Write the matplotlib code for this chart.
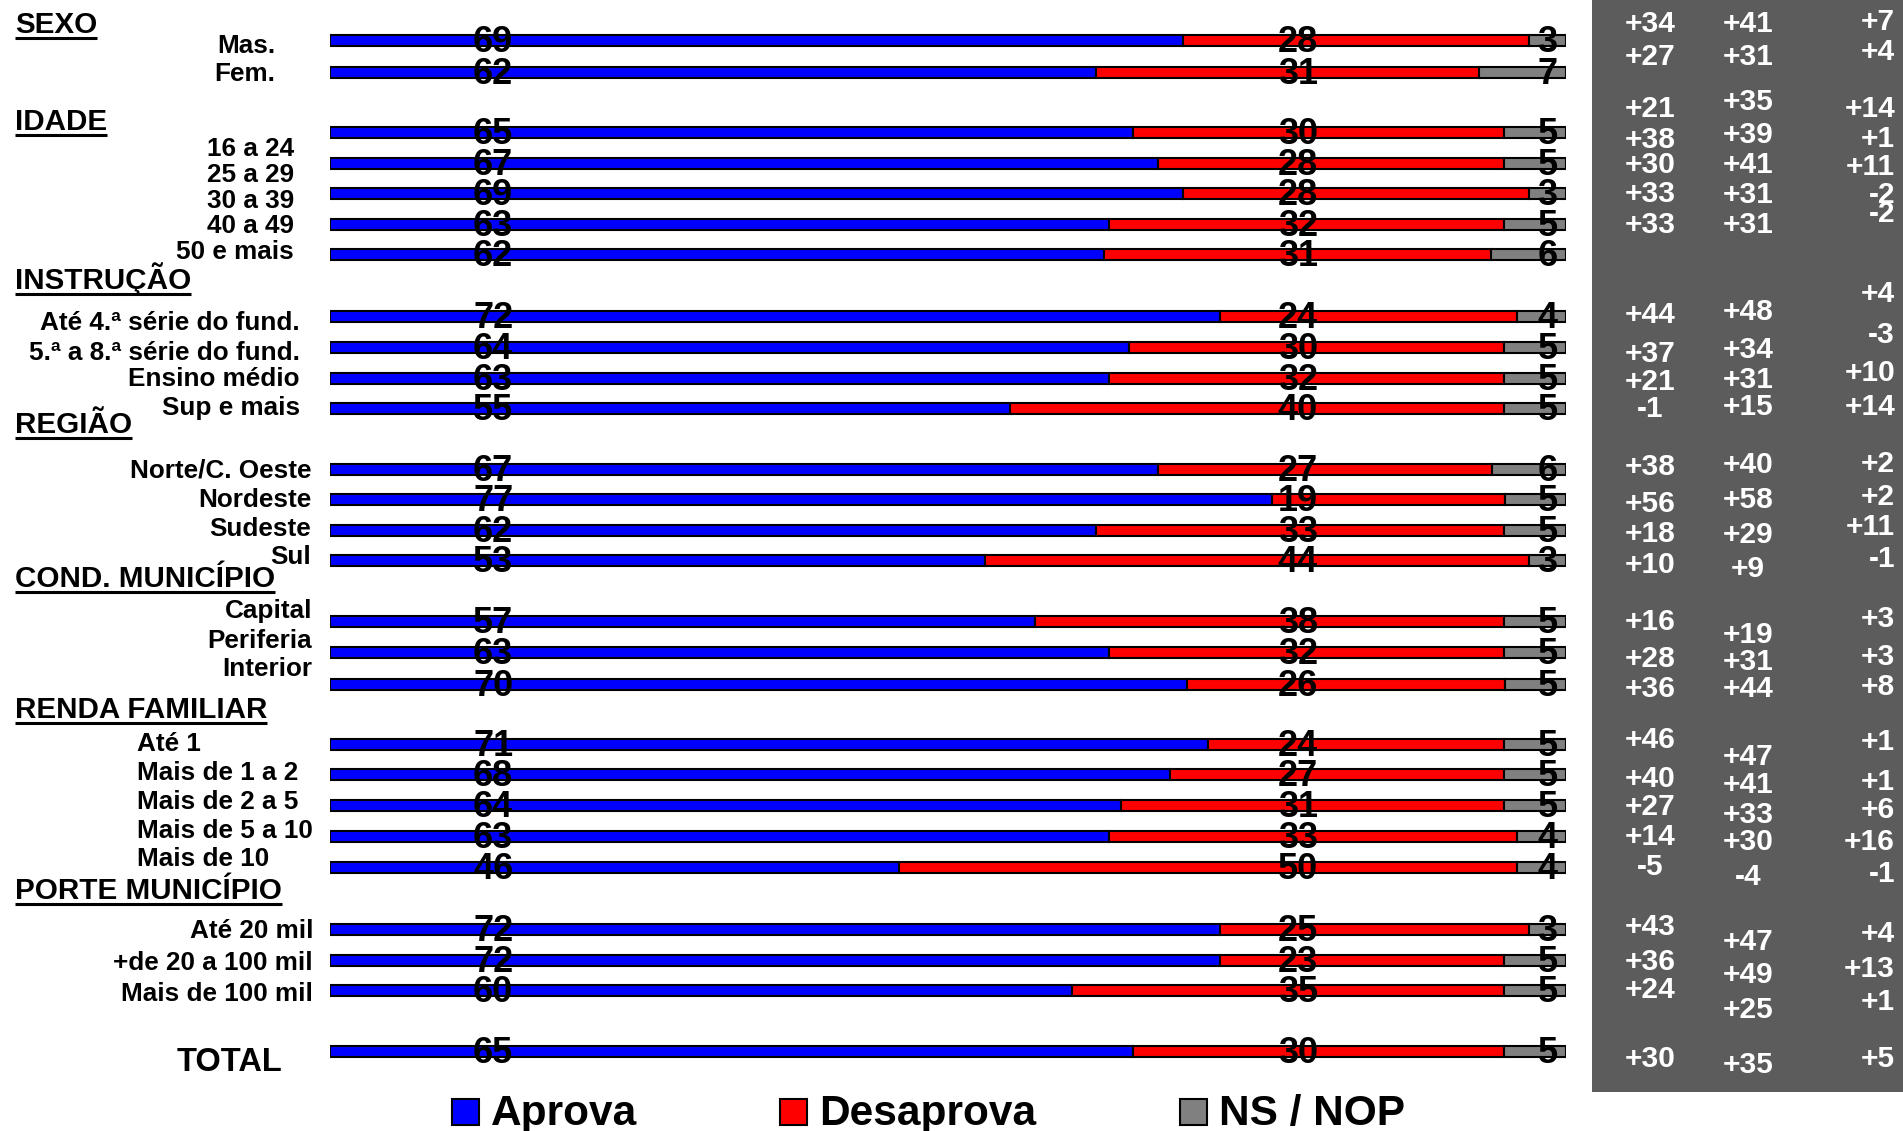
import numpy as np
import matplotlib.pyplot as plt
from matplotlib.patches import Rectangle

plt.rcParams['font.family'] = ['Liberation Sans', 'DejaVu Sans']
plt.rcParams['font.weight'] = 'bold'

# the data
rows = ['Mas.', 'Fem.',
        '16 a 24', '25 a 29', '30 a 39', '40 a 49', '50 e mais',
        'Até 4.ª série do fund.', '5.ª a 8.ª série do fund.', 'Ensino médio', 'Sup e mais',
        'Norte/C. Oeste', 'Nordeste', 'Sudeste', 'Sul',
        'Capital', 'Periferia', 'Interior',
        'Até 1', 'Mais de 1 a 2', 'Mais de 2 a 5', 'Mais de 5 a 10', 'Mais de 10',
        'Até 20 mil', '+de 20 a 100 mil', 'Mais de 100 mil',
        'TOTAL']
aprova = [69, 62, 65, 67, 69, 63, 62, 72, 64, 63, 55, 67, 77, 62, 53,
          57, 63, 70, 71, 68, 64, 63, 46, 72, 72, 60, 65]
desaprova = [28, 31, 30, 28, 28, 32, 31, 24, 30, 32, 40, 27, 19, 33, 44,
             38, 32, 26, 24, 27, 31, 33, 50, 25, 23, 35, 30]
ns_nop = [3, 7, 5, 5, 3, 5, 6, 4, 5, 5, 5, 6, 5, 5, 3,
          5, 5, 5, 5, 5, 5, 4, 4, 3, 5, 5, 5]

headers = ['SEXO', 'IDADE', 'INSTRUÇÃO', 'REGIÃO', 'COND. MUNICÍPIO',
           'RENDA FAMILIAR', 'PORTE MUNICÍPIO']

# right panel columns
col1 = ['+34', '+27', '+21', '+38', '+30', '+33', '+33', '+44', '+37', '+21', '-1',
        '+38', '+56', '+18', '+10', '+16', '+28', '+36', '+46', '+40', '+27', '+14', '-5',
        '+43', '+36', '+24', '+30']
col2 = ['+41', '+31', '+35', '+39', '+41', '+31', '+31', '+48', '+34', '+31', '+15',
        '+40', '+58', '+29', '+9', '+19', '+31', '+44', '+47', '+41', '+33', '+30', '-4',
        '+47', '+49', '+25', '+35']
col3 = ['+7', '+4', '+14', '+1', '+11', '-2', '-2', '+4', '-3', '+10', '+14',
        '+2', '+2', '+11', '-1', '+3', '+3', '+8', '+1', '+1', '+6', '+16', '-1',
        '+4', '+13', '+1', '+5']

# layout (pixels from top)
bar_y = [40, 72, 132, 163, 193, 224, 254, 316, 347, 378, 408, 469, 499, 530, 560,
         621, 652, 684, 744, 774, 805, 836, 867, 929, 960, 990, 1051]
lab_y = [53, 81, 156, 182, 208, 233, 259, 330, 360, 386, 415, 477, 507, 536, 564,
         618, 648, 676, 751, 780, 809, 838, 866, 938, 970, 1001, 1071]
lab_x = [275] * 2 + [294] * 5 + [300] * 4 + [311] * 4 + [312] * 3 + [137] * 5 + [313] * 3 + [282]
lab_ha = ['right'] * 18 + ['left'] * 5 + ['right'] * 4
head_y = [33, 130, 289, 433, 587, 718, 899]
c1_y = [32, 65, 117, 148, 173, 202, 233, 323, 362, 390, 417, 475, 512, 542, 573,
        630, 667, 697, 748, 787, 815, 845, 875, 935, 970, 998, 1067]
c2_y = [32, 65, 110, 143, 173, 203, 233, 320, 358, 388, 415, 473, 508, 543, 577,
        643, 670, 697, 765, 793, 823, 850, 885, 950, 983, 1018, 1073]
c3_y = [30, 60, 117, 147, 175, 203, 222, 302, 343, 381, 415, 472, 505, 535, 567,
        627, 665, 695, 750, 790, 818, 850, 882, 942, 977, 1010, 1067]

W, H = 1903, 1131
fig = plt.figure(figsize=(W / 100, H / 100), dpi=100)

# background / text layer in pixel coordinates
ov = fig.add_axes([0, 0, 1, 1])
ov.set_xlim(0, W)
ov.set_ylim(H, 0)
ov.axis('off')
ov.add_patch(Rectangle((1592, 0), W - 1592, 1092, color='#5c5c5c', lw=0))

# bars
bx0, bw = 330, 1236
ax = fig.add_axes([bx0 / W, 0, bw / W, 1])
ax.set_xlim(0, 100)
ax.set_ylim(H, 0)
ax.axis('off')

a = np.array(aprova, float)
d = np.array(desaprova, float)
n = np.array(ns_nop, float)
tot = a + d + n
a_p, d_p, n_p = a / tot * 100, d / tot * 100, n / tot * 100
kw = dict(height=11, edgecolor='black', linewidth=1.5)
ax.barh(bar_y, a_p, color='#0000ff', **kw)
ax.barh(bar_y, d_p, left=a_p, color='#ff0000', **kw)
ax.barh(bar_y, n_p, left=a_p + d_p, color='#808080', **kw)

for i, y in enumerate(bar_y):
    for xv, v in ((13.2, aprova[i]), (78.3, desaprova[i]), (98.5, ns_nop[i])):
        ax.text(xv, y + 12, str(v), ha='center', va='baseline', fontsize=26,
                color='black', zorder=5)

# category labels
for i, r in enumerate(rows):
    fs = 23.5 if r == 'TOTAL' else 18.8
    ov.text(lab_x[i], lab_y[i], r, ha=lab_ha[i], va='baseline', fontsize=fs)

# group headers, underlined
head_txt = []
for h, y in zip(headers, head_y):
    head_txt.append(ov.text(15, y, h, ha='left', va='baseline', fontsize=21.3))

# right panel numbers
for vals, ys, x, ha in ((col1, c1_y, 1650, 'center'), (col2, c2_y, 1748, 'center'),
                        (col3, c3_y, 1895, 'right')):
    for v, y in zip(vals, ys):
        ov.text(x, y, v, ha=ha, va='baseline', fontsize=21.5, color='white')

# legend
leg = [('Aprova', '#0000ff', 452), ('Desaprova', '#ff0000', 780), ('NS / NOP', '#808080', 1180)]
for name, c, x in leg:
    ov.add_patch(Rectangle((x, 1099), 27, 26, facecolor=c, edgecolor='black', lw=1.5))
    ov.text(x + 39, 1125, name, ha='left', va='baseline', fontsize=30.5)

fig.canvas.draw()
rend = fig.canvas.get_renderer()
inv = ov.transData.inverted()
for t, y in zip(head_txt, head_y):
    bb = t.get_window_extent(rend)
    x0 = inv.transform((bb.x0, 0))[0]
    x1 = inv.transform((bb.x1, 0))[0]
    ov.plot([x0, x1], [y + 4.5, y + 4.5], color='black', lw=2.2, solid_capstyle='butt')

fig.savefig('out.png', dpi=100)
